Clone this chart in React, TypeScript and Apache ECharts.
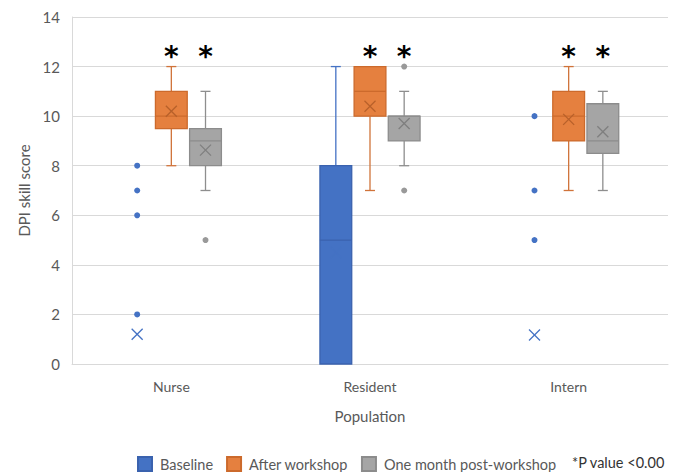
import React, { useEffect, useRef } from "react";
import * as echarts from "echarts";

const categories = ["Nurse", "Resident", "Intern"];
const seriesNames = ["Baseline", "After workshop", "One month post-workshop"];

// [min, q1, median, q3, max]
const baselineStats = [
  [0, 0, 0, 0, 0],
  [0, 0, 5, 8, 12],
  [0, 0, 0, 0, 0],
];
const baselineMeans = [1.2, 4.5, 1.17];
const baselineOutliers = [[8, 7, 6, 2], [], [10, 7, 5]];
const baselineSignificant = [false, false, false];

const afterStats = [
  [8, 9.5, 10, 11, 12],
  [7, 10, 11, 12, 12],
  [7, 9, 10, 11, 12],
];
const afterMeans = [10.2, 10.4, 9.87];
const afterOutliers = [[], [], []];
const afterSignificant = [true, true, true];

const monthStats = [
  [7, 8, 9, 9.5, 11],
  [8, 9, 10, 10, 11],
  [7, 8.5, 9, 10.5, 11],
];
const monthMeans = [8.63, 9.7, 9.37];
const monthOutliers = [[5], [12, 7], []];
const monthSignificant = [true, true, true];

const yTicks = { min: 0, max: 14, interval: 2 };
const footnote = "*P value <0.00";

const FONT = "Lato, 'Open Sans', sans-serif";
const TEXT = "#595959";

const styles = [
  { fill: "#4472C4", border: "#3A62AE", whisker: "#4472C4", mean: "#4472C4", dot: "#4472C4" },
  { fill: "#E5803F", border: "#CC6A2C", whisker: "#D0733A", mean: "#B8602A", dot: "#E5803F" },
  { fill: "#A5A5A5", border: "#8C8C8C", whisker: "#8E8E8E", mean: "#7F7F7F", dot: "#999999" },
];

const groups = [
  { stats: baselineStats, means: baselineMeans, outliers: baselineOutliers, sig: baselineSignificant },
  { stats: afterStats, means: afterMeans, outliers: afterOutliers, sig: afterSignificant },
  { stats: monthStats, means: monthMeans, outliers: monthOutliers, sig: monthSignificant },
];

function makeRender(si: number) {
  const g = groups[si];
  const st = styles[si];
  return (params: any, api: any) => {
    const idx = api.value(0);
    const band = api.size([1, 0])[0];
    const cx = api.coord([idx, 0])[0] + (si - 1) * band * 0.172;
    const bw = band * 0.16;
    const cap = 5;
    const [mn, q1, md, q3, mx] = g.stats[params.dataIndex];
    const y = (v: number) => api.coord([idx, v])[1];
    const children: any[] = [];
    const ls = { stroke: st.whisker, lineWidth: 1.3 };
    if (mn < q1) {
      children.push({ type: "line", shape: { x1: cx, y1: y(mn), x2: cx, y2: y(q1) }, style: ls });
      children.push({ type: "line", shape: { x1: cx - cap, y1: y(mn), x2: cx + cap, y2: y(mn) }, style: ls });
    }
    if (mx > q3) {
      children.push({ type: "line", shape: { x1: cx, y1: y(q3), x2: cx, y2: y(mx) }, style: ls });
      children.push({ type: "line", shape: { x1: cx - cap, y1: y(mx), x2: cx + cap, y2: y(mx) }, style: ls });
    }
    if (q3 > q1) {
      children.push({
        type: "rect",
        shape: { x: cx - bw / 2, y: y(q3), width: bw, height: y(q1) - y(q3) },
        style: { fill: st.fill, stroke: st.border, lineWidth: 1.3 },
      });
      children.push({
        type: "line",
        shape: { x1: cx - bw / 2, y1: y(md), x2: cx + bw / 2, y2: y(md) },
        style: { stroke: st.border, lineWidth: 1.3 },
      });
    }
    const m = g.means[params.dataIndex];
    const h = 5.5;
    const my = y(m);
    const xs = { stroke: st.mean, lineWidth: 1.3 };
    children.push({ type: "line", shape: { x1: cx - h, y1: my - h, x2: cx + h, y2: my + h }, style: xs });
    children.push({ type: "line", shape: { x1: cx - h, y1: my + h, x2: cx + h, y2: my - h }, style: xs });
    g.outliers[params.dataIndex].forEach((o: number) => {
      children.push({ type: "circle", shape: { cx, cy: y(o), r: 3 }, style: { fill: st.dot } });
    });
    if (g.sig[params.dataIndex]) {
      children.push({
        type: "text",
        x: cx,
        y: y(yTicks.max) + 39,
        style: {
          text: "*",
          font: "bold 28px 'DejaVu Sans', sans-serif",
          fill: "#000",
          align: "center",
          verticalAlign: "middle",
        },
      });
    }
    return { type: "group", children };
  };
}

export default function App() {
  const ref = useRef<HTMLDivElement>(null);
  useEffect(() => {
    if (!ref.current) return;
    const chart = echarts.init(ref.current, undefined, { renderer: "svg" });
    chart.setOption({
      animation: false,
      backgroundColor: "#fff",
      grid: { left: 72, right: 12, top: 17, bottom: 108 },
      legend: {
        data: seriesNames,
        left: 137,
        top: 456,
        padding: 0,
        icon: "rect",
        itemWidth: 14,
        itemHeight: 14,
        itemGap: 13,
        textStyle: { fontFamily: FONT, fontSize: 14.5, color: TEXT, padding: [0, 0, 0, 3] },
      },
      graphic: [
        {
          type: "text",
          left: 572,
          top: 455,
          style: { text: footnote, font: `14.5px ${FONT}`, fill: "#333" },
        },
      ],
      xAxis: {
        type: "category",
        data: categories,
        name: "Population",
        nameLocation: "middle",
        nameGap: 44,
        nameTextStyle: { fontFamily: FONT, fontSize: 15, color: TEXT },
        axisLine: { lineStyle: { color: "#D9D9D9" } },
        axisTick: { show: false },
        axisLabel: { fontFamily: FONT, fontSize: 14, color: TEXT, margin: 15 },
      },
      yAxis: {
        type: "value",
        min: yTicks.min,
        max: yTicks.max,
        interval: yTicks.interval,
        name: "DPI skill score",
        nameLocation: "middle",
        nameGap: 40,
        nameTextStyle: { fontFamily: FONT, fontSize: 15, color: TEXT },
        axisLine: { show: true, lineStyle: { color: "#D9D9D9" } },
        axisTick: { show: false },
        axisLabel: { fontFamily: FONT, fontSize: 15, color: TEXT, margin: 12 },
        splitLine: { lineStyle: { color: "#D9D9D9" } },
      },
      series: groups.map((g, si) => ({
        type: "custom",
        name: seriesNames[si],
        itemStyle: { color: styles[si].fill, borderColor: styles[si].border, borderWidth: 1 },
        renderItem: makeRender(si),
        encode: { x: 0, y: [1, 2, 3, 4, 5] },
        data: categories.map((_, i) => [i, ...g.stats[i]]),
        clip: false,
      })),
    });
    return () => chart.dispose();
  }, []);
  return (
    <div
      ref={ref}
      style={{ position: "fixed", left: 0, top: 0, width: 680, height: 472 }}
    />
  );
}
